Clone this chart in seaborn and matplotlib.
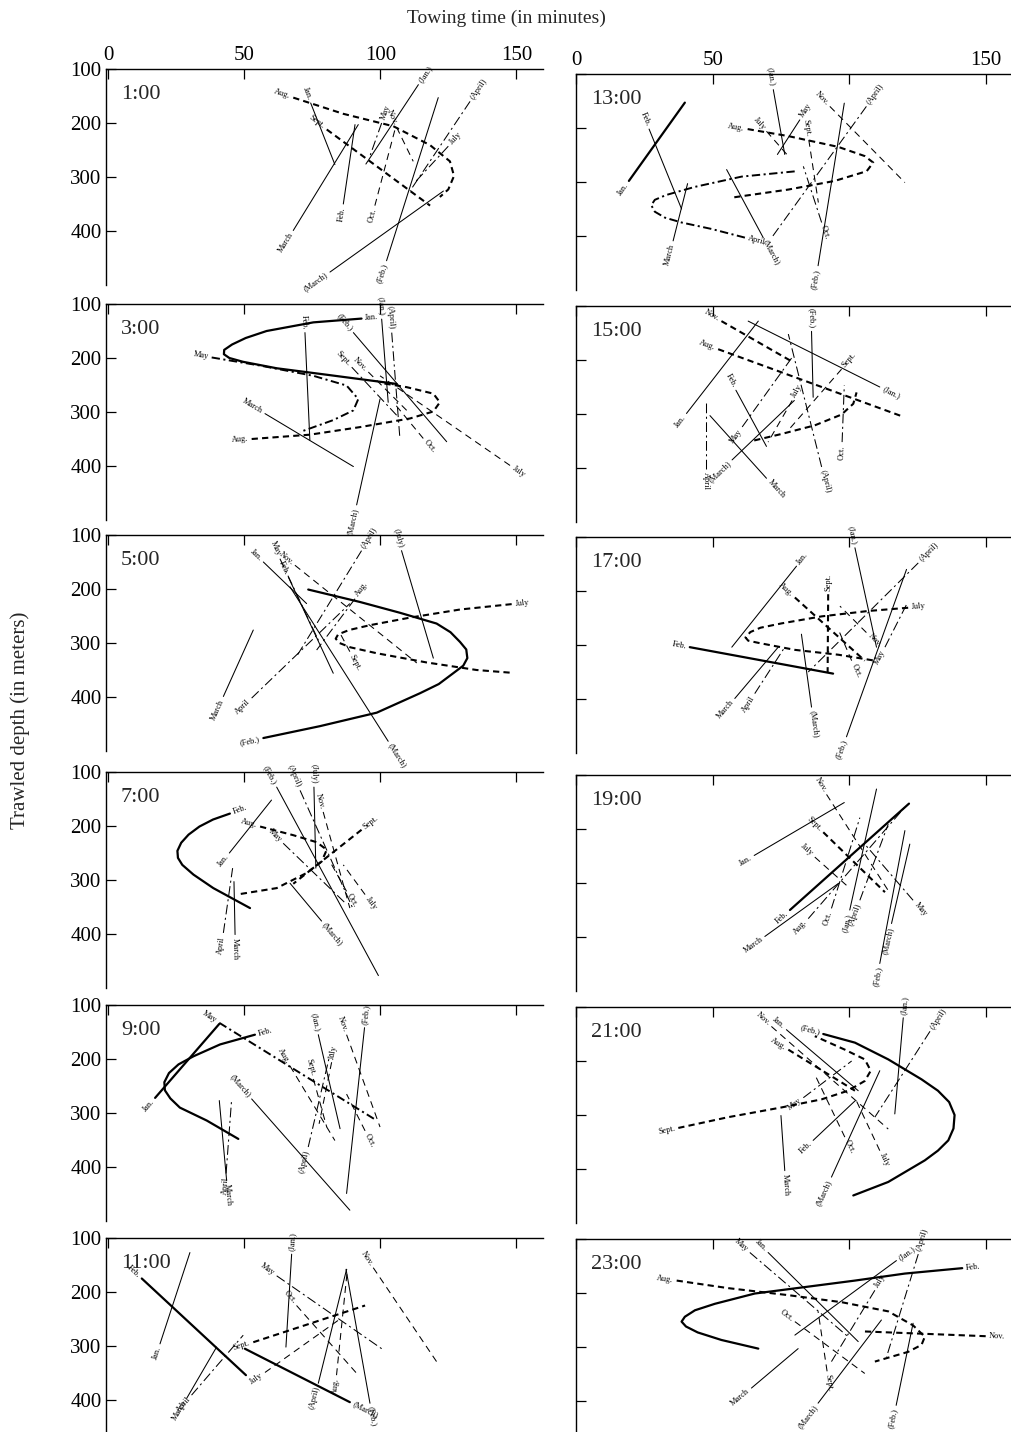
import numpy as np
import pandas as pd
import matplotlib
matplotlib.use("Agg")
import matplotlib.pyplot as plt
import seaborn as sns

# each mark: (label, line kind, towing times, depths); the label sits at the first point
h01 = [
    ("Jan.", "thin", [74.4, 83.3], [163, 277]),
    ("Aug.", "tdash", [68.0, 86.4, 104.8, 118.3, 125.6, 127.1, 125.0, 121.9], [153, 183, 206, 241, 271, 298, 323, 337]),
    ("Sept.", "tdash", [80.3, 118.3], [212, 353]),
    ("March", "thin", [68.0, 91.9], [399, 203]),
    ("Feb.", "thin", [86.4, 90.7], [350, 203]),
    ("(Jan.)", "thin", [114.0, 94.7], [129, 276]),
    ("Oct.", "dash", [98.0, 105.4], [353, 212]),
    ("May", "dashdot", [100.5, 96.2], [200, 261]),
    ("Nov.", "dash", [106.0, 112.1], [208, 271]),
    ("(Feb.)", "thin", [102.3, 121.3], [455, 153]),
    ("(March)", "thin", [81.5, 123.2], [476, 326]),
    ("(April)", "dashdot", [133.0, 110.9], [160, 326]),
    ("July", "dashdot", [125.0, 112.7], [243, 310]),
]
h03 = [
    ("Jan.", "thick", [93.1, 75.4, 58.2, 50.5, 45.5, 42.6, 42.5, 44.5, 49.5, 61.9, 80.3, 106.0],
     [127, 134, 150, 163, 175, 185, 193, 200, 207, 219, 231, 248]),
    ("May", "tdashdot", [38.0, 55.8, 75.4, 87.6, 91.9, 90.1, 82.7, 70.5], [199, 214, 233, 251, 276, 297, 315, 337]),
    ("Aug.", "tdash", [52.7, 74.1, 92.5, 110.9, 119.5, 121.9, 119.5, 109.7, 99.9], [350, 342, 328, 312, 299, 282, 266, 254, 246]),
    ("March", "thin", [57.6, 90.1], [303, 401]),
    ("Feb.", "thin", [72.3, 74.1], [153, 352]),
    ("(March)", "thin", [91.3, 99.9], [472, 276]),
    ("(Feb.)", "thin", [90.1, 124.4], [153, 355]),
    ("(Jan.)", "thin", [100.5, 102.9], [128, 282]),
    ("(April)", "dashdot", [104.2, 107.2], [153, 349]),
    ("July", "dash", [147.7, 99.9], [399, 233]),
    ("Nov.", "dash", [95.6, 109.7], [226, 297]),
    ("Sept.", "dashdot", [89.5, 106.0], [217, 306]),
    ("Oct.", "dash", [115.8, 104.8], [349, 282]),
]
h05 = [
    ("(Feb.)", "thick", [57.0, 77.8, 98.7, 114.6, 121.5, 126.8, 130.5, 132.0, 131.6, 129.3, 125.8, 120.7, 107.2, 92.5, 73.5],
     [476, 454, 429, 393, 376, 356, 342, 328, 312, 298, 280, 264, 244, 224, 201]),
    ("July", "tdash", [148.3, 129.3, 110.9, 96.2, 88.5, 84.5, 83.6, 85.0, 89.0, 98.7, 117.0, 135.4, 147.9],
     [228, 238, 253, 267, 276, 284, 292, 300, 308, 319, 336, 350, 355]),
    ("Jan.", "thin", [57.0, 72.9], [150, 227]),
    ("May", "dashdot", [63.1, 77.8], [144, 301]),
    ("Feb.", "thin", [66.2, 82.7], [178, 356]),
    ("(March)", "thin", [102.9, 66.8], [482, 196]),
    ("Nov.", "dash", [68.6, 113.4], [156, 337]),
    ("(April)", "dashdot", [93.1, 69.2], [129, 325]),
    ("April", "dashdot", [52.7, 88.8], [402, 227]),
    ("March", "thin", [42.3, 53.3], [399, 276]),
    ("Aug.", "dashdot", [90.7, 76.6], [218, 313]),
    ("(July)", "thin", [107.8, 119.5], [129, 328]),
    ("Sept.", "dash", [88.8, 85.2], [316, 282]),
]
h07 = [
    ("Feb.", "thick", [44.7, 38.5, 33.5, 29.5, 26.8, 25.4, 25.6, 27.2, 31.3, 38.6, 52.1],
     [177, 188, 201, 216, 231, 246, 259, 272, 290, 315, 352]),
    ("Jan.", "thin", [44.5, 60.0], [250, 152]),
    ("April", "dashdot", [42.3, 45.7], [398, 278]),
    ("March", "thin", [46.6, 46.2], [401, 303]),
    ("Aug.", "tdash", [55.8, 68.0, 76.6, 80.3, 78.4, 72.9, 61.9, 47.2], [201, 217, 230, 244, 266, 287, 315, 327]),
    ("Sept.", "tdash", [93.1, 68.0], [207, 307]),
    ("(Feb.)", "thin", [61.9, 99.3], [128, 477]),
    ("(April)", "dashdot", [70.5, 90.1], [134, 355]),
    ("(July)", "thin", [75.6, 76.3], [128, 278]),
    ("Nov.", "dash", [79.0, 88.8], [174, 352]),
    ("May", "dashdot", [64.3, 87.6], [232, 345]),
    ("(March)", "thin", [78.4, 66.8], [376, 306]),
    ("Oct.", "dash", [87.6, 81.5], [321, 266]),
    ("July", "dash", [94.4, 86.4], [327, 272]),
]
h09 = [
    ("Jan.", "thick", [17.2, 40.8], [272, 135]),
    ("Feb.", "thick", [53.9, 41.1, 31.3, 25.8, 22.3, 20.6, 20.8, 22.8, 26.3, 36.2, 47.8],
     [155, 173, 195, 210, 226, 243, 258, 273, 290, 314, 348]),
    ("May", "tdashdot", [40.8, 98.7], [133, 314]),
    ("April", "dashdot", [43.3, 45.3], [412, 277]),
    ("March", "thin", [43.5, 40.8], [425, 277]),
    ("(March)", "thin", [52.7, 88.8], [274, 480]),
    ("(April)", "dashdot", [73.5, 81.5], [363, 191]),
    ("Aug.", "dash", [66.8, 83.3], [213, 351]),
    ("Sept.", "dash", [75.4, 80.3], [237, 326]),
    ("(Jan.)", "thin", [77.2, 85.2], [155, 329]),
    ("July", "dash", [82.1, 77.5], [206, 320]),
    ("Nov.", "dash", [87.6, 99.9], [155, 326]),
    ("(Feb.)", "thin", [94.2, 87.6], [142, 449]),
    ("Oct.", "dash", [94.4, 87.6], [333, 265]),
]
h11 = [
    ("Feb.", "thick", [12.3, 50.6], [175, 354]),
    ("(March)", "thick", [88.8, 50.2], [404, 305]),
    ("Jan.", "thin", [19.0, 30.0], [296, 127]),
    ("March", "thin", [28.8, 39.8], [397, 302]),
    ("April", "dashdot", [30.6, 49.6], [391, 280]),
    ("Sept.", "tdash", [53.3, 94.4], [293, 225]),
    ("July", "dash", [57.6, 85.2], [349, 250]),
    ("(Jan.)", "thin", [67.4, 65.3], [130, 302]),
    ("May", "dashdot", [61.9, 100.5], [170, 305]),
    ("Oct.", "dash", [69.2, 91.9], [225, 354]),
    ("(April)", "thin", [77.2, 87.6], [369, 158]),
    ("Aug.", "dash", [83.9, 87.9], [354, 158]),
    ("(Feb.)", "thin", [96.2, 87.4], [406, 158]),
    ("Nov.", "dash", [97.4, 120.7], [155, 329]),
]
h13 = [
    ("Jan.", "thick", [19.3, 39.8], [298, 153]),
    ("Feb.", "thin", [26.7, 38.6], [202, 350]),
    ("March", "thin", [35.5, 40.8], [409, 303]),
    ("April", "tdashdot", [61.8, 49.6, 38.6, 32.5, 28.8, 27.5, 28.8, 33.0, 43.5, 60.6, 80.7],
     [403, 387, 375, 366, 355, 343, 333, 324, 309, 290, 280]),
    ("(March)", "thin", [68.5, 55.1], [403, 277]),
    ("(Jan.)", "thin", [72.2, 76.4], [129, 249]),
    ("July", "dash", [69.7, 77.7], [206, 252]),
    ("May", "thin", [81.9, 73.7], [185, 249]),
    ("Aug.", "tdash", [62.8, 77.7, 96.0, 105.7, 108.8, 106.4, 94.7, 77.7, 56.9], [202, 215, 235, 252, 264, 280, 298, 314, 329]),
    ("Sept.", "dash", [85.2, 88.7], [222, 338]),
    ("Nov.", "dash", [92.9, 120.4], [160, 301]),
    ("(Feb.)", "thin", [88.6, 98.2], [455, 154]),
    ("(April)", "dashdot", [106.3, 71.6], [160, 403]),
    ("Oct.", "dashdot", [89.9, 83.2], [375, 271]),
]
h15 = [
    ("Nov.", "tdash", [53.2, 79.1], [128, 203]),
    ("Aug.", "tdash", [52.0, 119.2], [180, 304]),
    ("Jan.", "thin", [40.4, 66.7], [299, 128]),
    ("(Jan.)", "thin", [111.2, 63.0], [250, 128]),
    ("Sept.", "dash", [97.2, 77.7], [217, 330]),
    ("Feb.", "thin", [58.5, 69.7], [256, 360]),
    ("(Feb.)", "thin", [86.2, 86.8], [147, 269]),
    ("(April)", "dashdot", [89.9, 77.7], [398, 152]),
    ("March", "thin", [69.7, 49.0], [419, 303]),
    ("(March)", "thin", [57.1, 79.9], [385, 275]),
    ("April", "dashdot", [47.7, 47.7], [401, 275]),
    ("May", "dashdot", [60.8, 79.1], [324, 195]),
    ("July", "dash", [79.1, 70.3], [275, 352]),
    ("Oct.", "dashdot", [97.4, 98.2], [352, 247]),
    ("", "tdash", [65.2, 75.2, 87.4, 97.2, 101.5, 102.7], [349, 337, 321, 301, 281, 260]),
]
h17 = [
    ("Feb.", "thick", [41.6, 94.1], [304, 353]),
    ("Jan.", "thin", [80.7, 57.0], [154, 304]),
    ("July", "tdash", [121.6, 107.0, 89.9, 75.2, 67.5, 63.8, 62.0, 63.0, 66.7, 80.1, 96.0, 109.4],
     [231, 237, 247, 260, 268, 276, 286, 292, 296, 309, 318, 329]),
    ("Aug.", "tdash", [80.1, 105.7], [212, 329]),
    ("Sept.", "tdash", [92.3, 92.1], [206, 350]),
    ("(Jan.)", "thin", [102.1, 110.0], [120, 304]),
    ("(April)", "dashdot", [125.3, 85.0], [148, 350]),
    ("(Feb.)", "thin", [99.0, 121.0], [470, 160]),
    ("May", "dashdot", [113.1, 121.0], [304, 225]),
    ("Nov.", "dash", [106.3, 96.6], [277, 228]),
    ("Oct.", "dash", [100.9, 96.0], [329, 271]),
    ("(March)", "thin", [86.2, 82.5], [415, 280]),
    ("March", "thin", [58.1, 74.0], [399, 304]),
    ("April", "dashdot", [65.4, 76.4], [390, 304]),
]
h19 = [
    ("Jan.", "thin", [65.2, 98.2], [249, 151]),
    ("Feb.", "thick", [78.3, 121.9], [350, 153]),
    ("March", "thin", [69.1, 96.0], [399, 301]),
    ("Aug.", "dashdot", [85.0, 121.0], [366, 156]),
    ("Oct.", "dashdot", [93.5, 103.9], [347, 179]),
    ("(Jan.)", "thin", [100.2, 110.0], [350, 126]),
    ("(April)", "dashdot", [103.9, 114.3], [332, 191]),
    ("(March)", "thin", [115.5, 122.2], [375, 228]),
    ("(Feb.)", "thin", [111.2, 120.4], [449, 203]),
    ("May", "dashdot", [123.4, 105.7], [332, 228]),
    ("Nov.", "dash", [91.7, 114.3], [136, 314]),
    ("Sept.", "tdash", [90.5, 113.1], [206, 317]),
    ("July", "dash", [87.4, 99.6], [252, 307]),
]
h21 = [
    ("(Feb.)", "thick", [90.5, 102.1, 114.3, 126.5, 132.5, 136.6, 138.6, 138.2, 136.3, 132.5, 127.7, 114.3, 101.5],
     [150, 166, 197, 234, 255, 276, 300, 325, 347, 366, 384, 424, 449]),
    ("(Jan.)", "thin", [119.8, 116.7], [120, 298]),
    ("(April)", "dashdot", [129.6, 109.4], [145, 304]),
    ("Nov.", "dash", [71.5, 114.3], [136, 326]),
    ("Jan.", "thin", [77.0, 103.3], [142, 255]),
    ("Sept.", "tdash", [37.4, 55.7, 75.2, 89.9, 99.6, 105.7, 107.9, 105.7, 98.4, 87.4],
     [324, 304, 286, 271, 255, 237, 218, 197, 179, 154]),
    ("Aug.", "tdash", [77.7, 102.1], [179, 255]),
    ("May", "dashdot", [83.2, 100.9], [268, 200]),
    ("March", "thin", [76.4, 75.0], [403, 301]),
    ("Feb.", "thin", [86.8, 102.1], [347, 274]),
    ("(March)", "thin", [93.5, 111.2], [415, 218]),
    ("Oct.", "dash", [98.4, 87.4], [341, 225]),
    ("July", "dash", [111.2, 102.1], [366, 268]),
]
h23 = [
    ("Feb.", "thick", [141.4, 120.4, 102.1, 83.8, 65.4, 50.8, 43.5, 39.8, 38.6, 40.2, 44.5, 53.2, 66.7],
     [154, 164, 177, 189, 201, 220, 232, 244, 253, 262, 273, 287, 303]),
    ("Aug.", "tdash", [36.8, 55.7, 77.7, 97.2, 114.3, 123.4, 127.7, 126.5, 121.6, 109.4], [177, 191, 204, 217, 234, 260, 281, 296, 309, 327]),
    ("Nov.", "tdash", [150.0, 104.5], [280, 271]),
    ("May", "dashdot", [63.6, 99.6], [125, 281]),
    ("Jan.", "thin", [70.3, 103.3], [125, 290]),
    ("(Jan.)", "thin", [117.3, 80.1], [140, 278]),
    ("(April)", "dashdot", [125.3, 113.7], [128, 318]),
    ("Oct.", "dash", [80.1, 105.7], [253, 349]),
    ("March", "thin", [64.2, 81.3], [376, 303]),
    ("Sept.", "dash", [91.9, 88.6], [345, 234]),
    ("(March)", "thin", [88.6, 111.8], [404, 250]),
    ("(Feb.)", "thin", [117.2, 123.4], [408, 256]),
    ("July", "dashdot", [109.4, 93.5], [195, 327]),
]

left_panels = [("1:00", h01), ("3:00", h03), ("5:00", h05), ("7:00", h07), ("9:00", h09), ("11:00", h11)]
right_panels = [("13:00", h13), ("15:00", h15), ("17:00", h17), ("19:00", h19), ("21:00", h21), ("23:00", h23)]

DASHES = {"thin": "", "thick": "", "dash": (5, 3.5), "tdash": (4.5, 3),
          "dashdot": (7, 2.5, 1.5, 2.5), "tdashdot": (6, 2.5, 1.5, 2.5)}
WIDTHS = {"thin": 0.75, "thick": 1.6, "dash": 0.75, "tdash": 1.5,
          "dashdot": 0.75, "tdashdot": 1.4}

sns.set_theme(style="white")
plt.rcParams["font.family"] = ["Liberation Serif", "DejaVu Serif"]
plt.rcParams["lines.scale_dashes"] = False

W, H = 1012, 1432
fig = plt.figure(figsize=(W / 100, H / 100), dpi=100)

row_tops = [[69, 304, 535, 772, 1005, 1238], [74, 306, 537, 775, 1007, 1239]]
col_geom = [(105.6, 437.9, (-1, 160)), (576.2, 436.8, (0, 160))]
ph = 216


def put_label(ax, text, ts, ds):
    p0 = ax.transData.transform((ts[0], ds[0]))
    p1 = ax.transData.transform((ts[1], ds[1]))
    v = p0 - p1
    v = v / np.hypot(*v)
    ang = np.degrees(np.arctan2(v[1], v[0]))
    ha = "left"
    if ang > 90 or ang < -90:
        ang += 180
        ha = "right"
    ax.annotate(text, (ts[0], ds[0]), xytext=(2.5 * v[0], 2.5 * v[1]),
                textcoords="offset points", rotation=ang, rotation_mode="anchor",
                ha=ha, va="center", fontsize=6, color="black")


for col, panels in enumerate([left_panels, right_panels]):
    x0, w, xlim = col_geom[col]
    for row, (name, marks) in enumerate(panels):
        top = row_tops[col][row]
        ax = fig.add_axes([x0 / W, 1 - (top + ph) / H, w / W, ph / H])
        rows = []
        for k, (lab, kind, ts, ds) in enumerate(marks):
            for t, d in zip(ts, ds):
                rows.append({"mark": k, "kind": kind, "t": t, "depth": d})
        df = pd.DataFrame(rows)
        sns.lineplot(data=df, x="t", y="depth", units="mark", estimator=None, sort=False,
                     style="kind", size="kind", dashes=DASHES, sizes=WIDTHS,
                     color="black", legend=False, ax=ax)
        ax.set_xlim(*xlim)
        ax.set_ylim(500, 100)
        ax.set_xlabel("")
        ax.set_ylabel("")
        ax.set_xticks([0, 50, 100, 150])
        ax.set_yticks([100, 200, 300, 400])
        if col == 1:
            ax.set_xticklabels(["0", "50", "", "150"])
        ax.tick_params(axis="both", direction="in", length=7, width=0.9, colors="black",
                       labelsize=15, pad=3)
        ax.tick_params(axis="x", top=True, bottom=False, labeltop=(row == 0), labelbottom=False)
        ax.tick_params(axis="y", left=True, right=False, labelleft=(col == 0))
        ax.spines[["right", "bottom"]].set_visible(False)
        for s in ["top", "left"]:
            ax.spines[s].set_color("black")
            ax.spines[s].set_linewidth(1.0)
        ax.text(0.035, 0.925, name, transform=ax.transAxes, ha="left", va="top", fontsize=16)
        for lab, kind, ts, ds in marks:
            if lab:
                put_label(ax, lab, ts, ds)

fig.text(0.5, 1 - 18 / H, "Towing time (in minutes)", ha="center", va="center", fontsize=14)
fig.text(20 / W, 1 - 720 / H, "Trawled depth (in meters)", rotation=90, ha="center",
         va="center", fontsize=15)

fig.savefig("out.png", dpi=100)
